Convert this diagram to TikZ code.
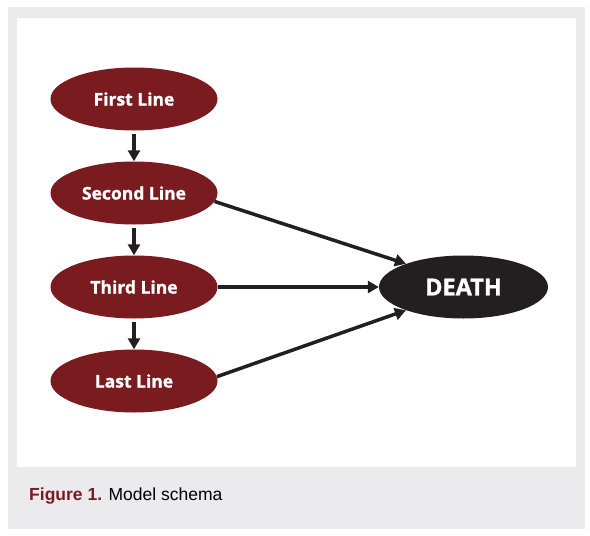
\documentclass[tikz,border=0pt]{standalone}
\usepackage{fontspec}
\setmainfont{Liberation Sans}
\newfontfamily\nodefont{Open Sans}[BoldFeatures={FakeBold=1.2}]
\usetikzlibrary{shapes.geometric,arrows.meta}
\definecolor{wine}{HTML}{7A1B20}
\definecolor{ink}{HTML}{231F20}
\definecolor{panel}{HTML}{EBEBED}
\tikzset{
  lineell/.style={ellipse, fill=wine, minimum width=167pt, minimum height=63pt, inner sep=0pt, text=white, font=\nodefont\bfseries\fontsize{17.5}{20}\selectfont},
  deathell/.style={ellipse, fill=ink, minimum width=169pt, minimum height=63pt, inner sep=0pt, text=white, font=\nodefont\bfseries\fontsize{23.5}{26}\selectfont},
  conn/.style={draw=ink, line width=3.5pt, -{Triangle[length=11pt,width=12pt]}},
}
\begin{document}
\begin{tikzpicture}[x=1pt,y=-1pt]
\useasboundingbox (0,0) rectangle (590,536);
\fill[white] (0,0) rectangle (590,536);
\fill[panel] (8,7) rectangle (585,529);
\fill[white] (17,18) rectangle (576,467);
\node[lineell] (first) at (134,99) {First Line};
\node[lineell] (second) at (134,193) {Second Line};
\node[lineell] (third) at (134,287) {Third Line};
\node[lineell] (last) at (134,381) {Last Line};
\node[deathell] (death) at (463.5,287) {DEATH};
\draw[conn, shorten <=3pt] (first) -- (second);
\draw[conn, shorten <=3pt] (second) -- (third);
\draw[conn, shorten <=3pt] (third) -- (last);
\draw[conn] (second.-6) -- (death.158);
\draw[conn] (third) -- (death);
\draw[conn] (last.3) -- (death.-158);
\node[anchor=base west, inner sep=0pt, font=\fontsize{17.5}{20}\selectfont] (cap) at (29,500) {\textcolor{wine}{\bfseries Figure 1.} Model schema};
\end{tikzpicture}
\end{document}
